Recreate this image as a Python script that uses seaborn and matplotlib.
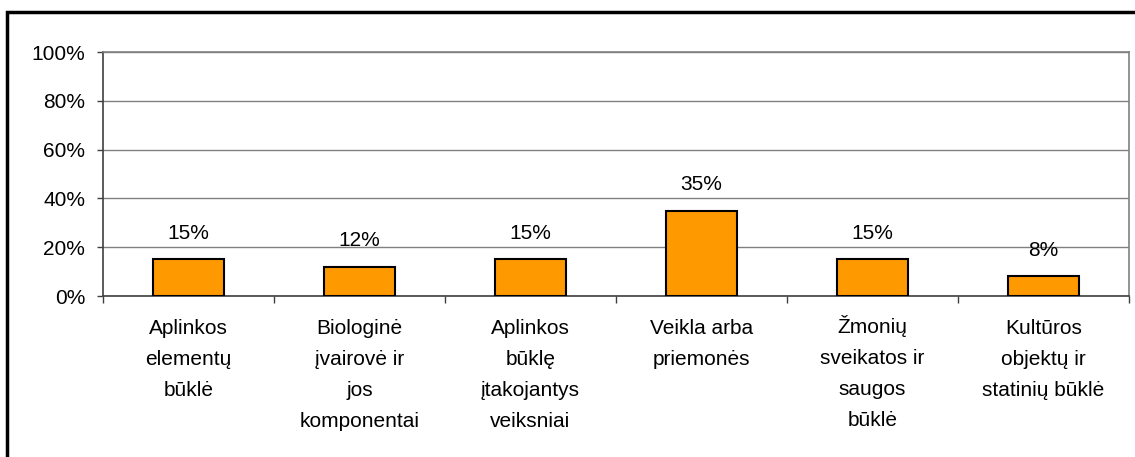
import matplotlib
matplotlib.use("Agg")
import matplotlib.pyplot as plt
from matplotlib.patches import Rectangle
from matplotlib.ticker import FixedLocator, PercentFormatter
from matplotlib.transforms import ScaledTranslation
import seaborn as sns
import pandas as pd

categories = [
    "Aplinkos\nelementų\nbūklė",
    "Biologinė\nįvairovė ir\njos\nkomponentai",
    "Aplinkos\nbūklę\nįtakojantys\nveiksniai",
    "Veikla arba\npriemonės",
    "Žmonių\nsveikatos ir\nsaugos\nbūklė",
    "Kultūros\nobjektų ir\nstatinių būklė",
]
values = [15, 12, 15, 35, 15, 8]
y_ticks = [0, 20, 40, 60, 80, 100]

sns.set_style("white")
plt.rcParams["font.family"] = ["Liberation Sans", "DejaVu Sans"]
plt.rcParams["text.color"] = "black"

df = pd.DataFrame({"cat": categories, "val": values})

fig = plt.figure(figsize=(11.35, 4.57), dpi=100)
ax = fig.add_axes([103 / 1135, 1 - 296 / 457, 1026 / 1135, 244 / 457])

sns.barplot(data=df, x="cat", y="val", color="#FF9900", saturation=1,
            width=0.41, edgecolor="black", linewidth=1.5, ax=ax, zorder=3)

ax.set_ylim(0, 100)
ax.set_xlim(-0.5, len(categories) - 0.5)
ax.set_yticks(y_ticks)
ax.yaxis.set_major_formatter(PercentFormatter(decimals=0))
ax.grid(axis="y", color="#808080", linewidth=1, zorder=0)
ax.set_xlabel("")
ax.set_ylabel("")

for s in ["top", "right"]:
    ax.spines[s].set_color("#808080")
    ax.spines[s].set_linewidth(1.2)
for s in ["left", "bottom"]:
    ax.spines[s].set_color("#404040")
    ax.spines[s].set_linewidth(1.2)

ax.tick_params(axis="y", length=4.3, width=1, color="#404040", labelsize=15,
               pad=8.5, left=True, labelcolor="black")
ax.tick_params(axis="x", which="major", length=0, labelsize=15, pad=16.5,
               labelcolor="black")
ax.xaxis.set_minor_locator(FixedLocator([i - 0.5 for i in range(len(categories) + 1)]))
ax.tick_params(axis="x", which="minor", length=5, width=1, color="#404040",
               bottom=True, direction="out")
for lbl in ax.get_xticklabels():
    lbl.set_linespacing(1.8)
    # the caron on Ž makes the first line taller, so lift that label back up
    if lbl.get_text().startswith("Ž"):
        lbl.set_transform(lbl.get_transform()
                          + ScaledTranslation(0, 2.5 / 72, fig.dpi_scale_trans))

for i, v in enumerate(values):
    ax.annotate(f"{v}%", (i, v), xytext=(0, 12), textcoords="offset points",
                ha="center", va="bottom", fontsize=15, color="black")

fig.patches.append(Rectangle((7 / 1135, -0.2), 2.0, 1.2 - 12 / 457,
                             transform=fig.transFigure, fill=False,
                             edgecolor="black", linewidth=2.5, figure=fig))

fig.savefig("out.png", dpi=100)
